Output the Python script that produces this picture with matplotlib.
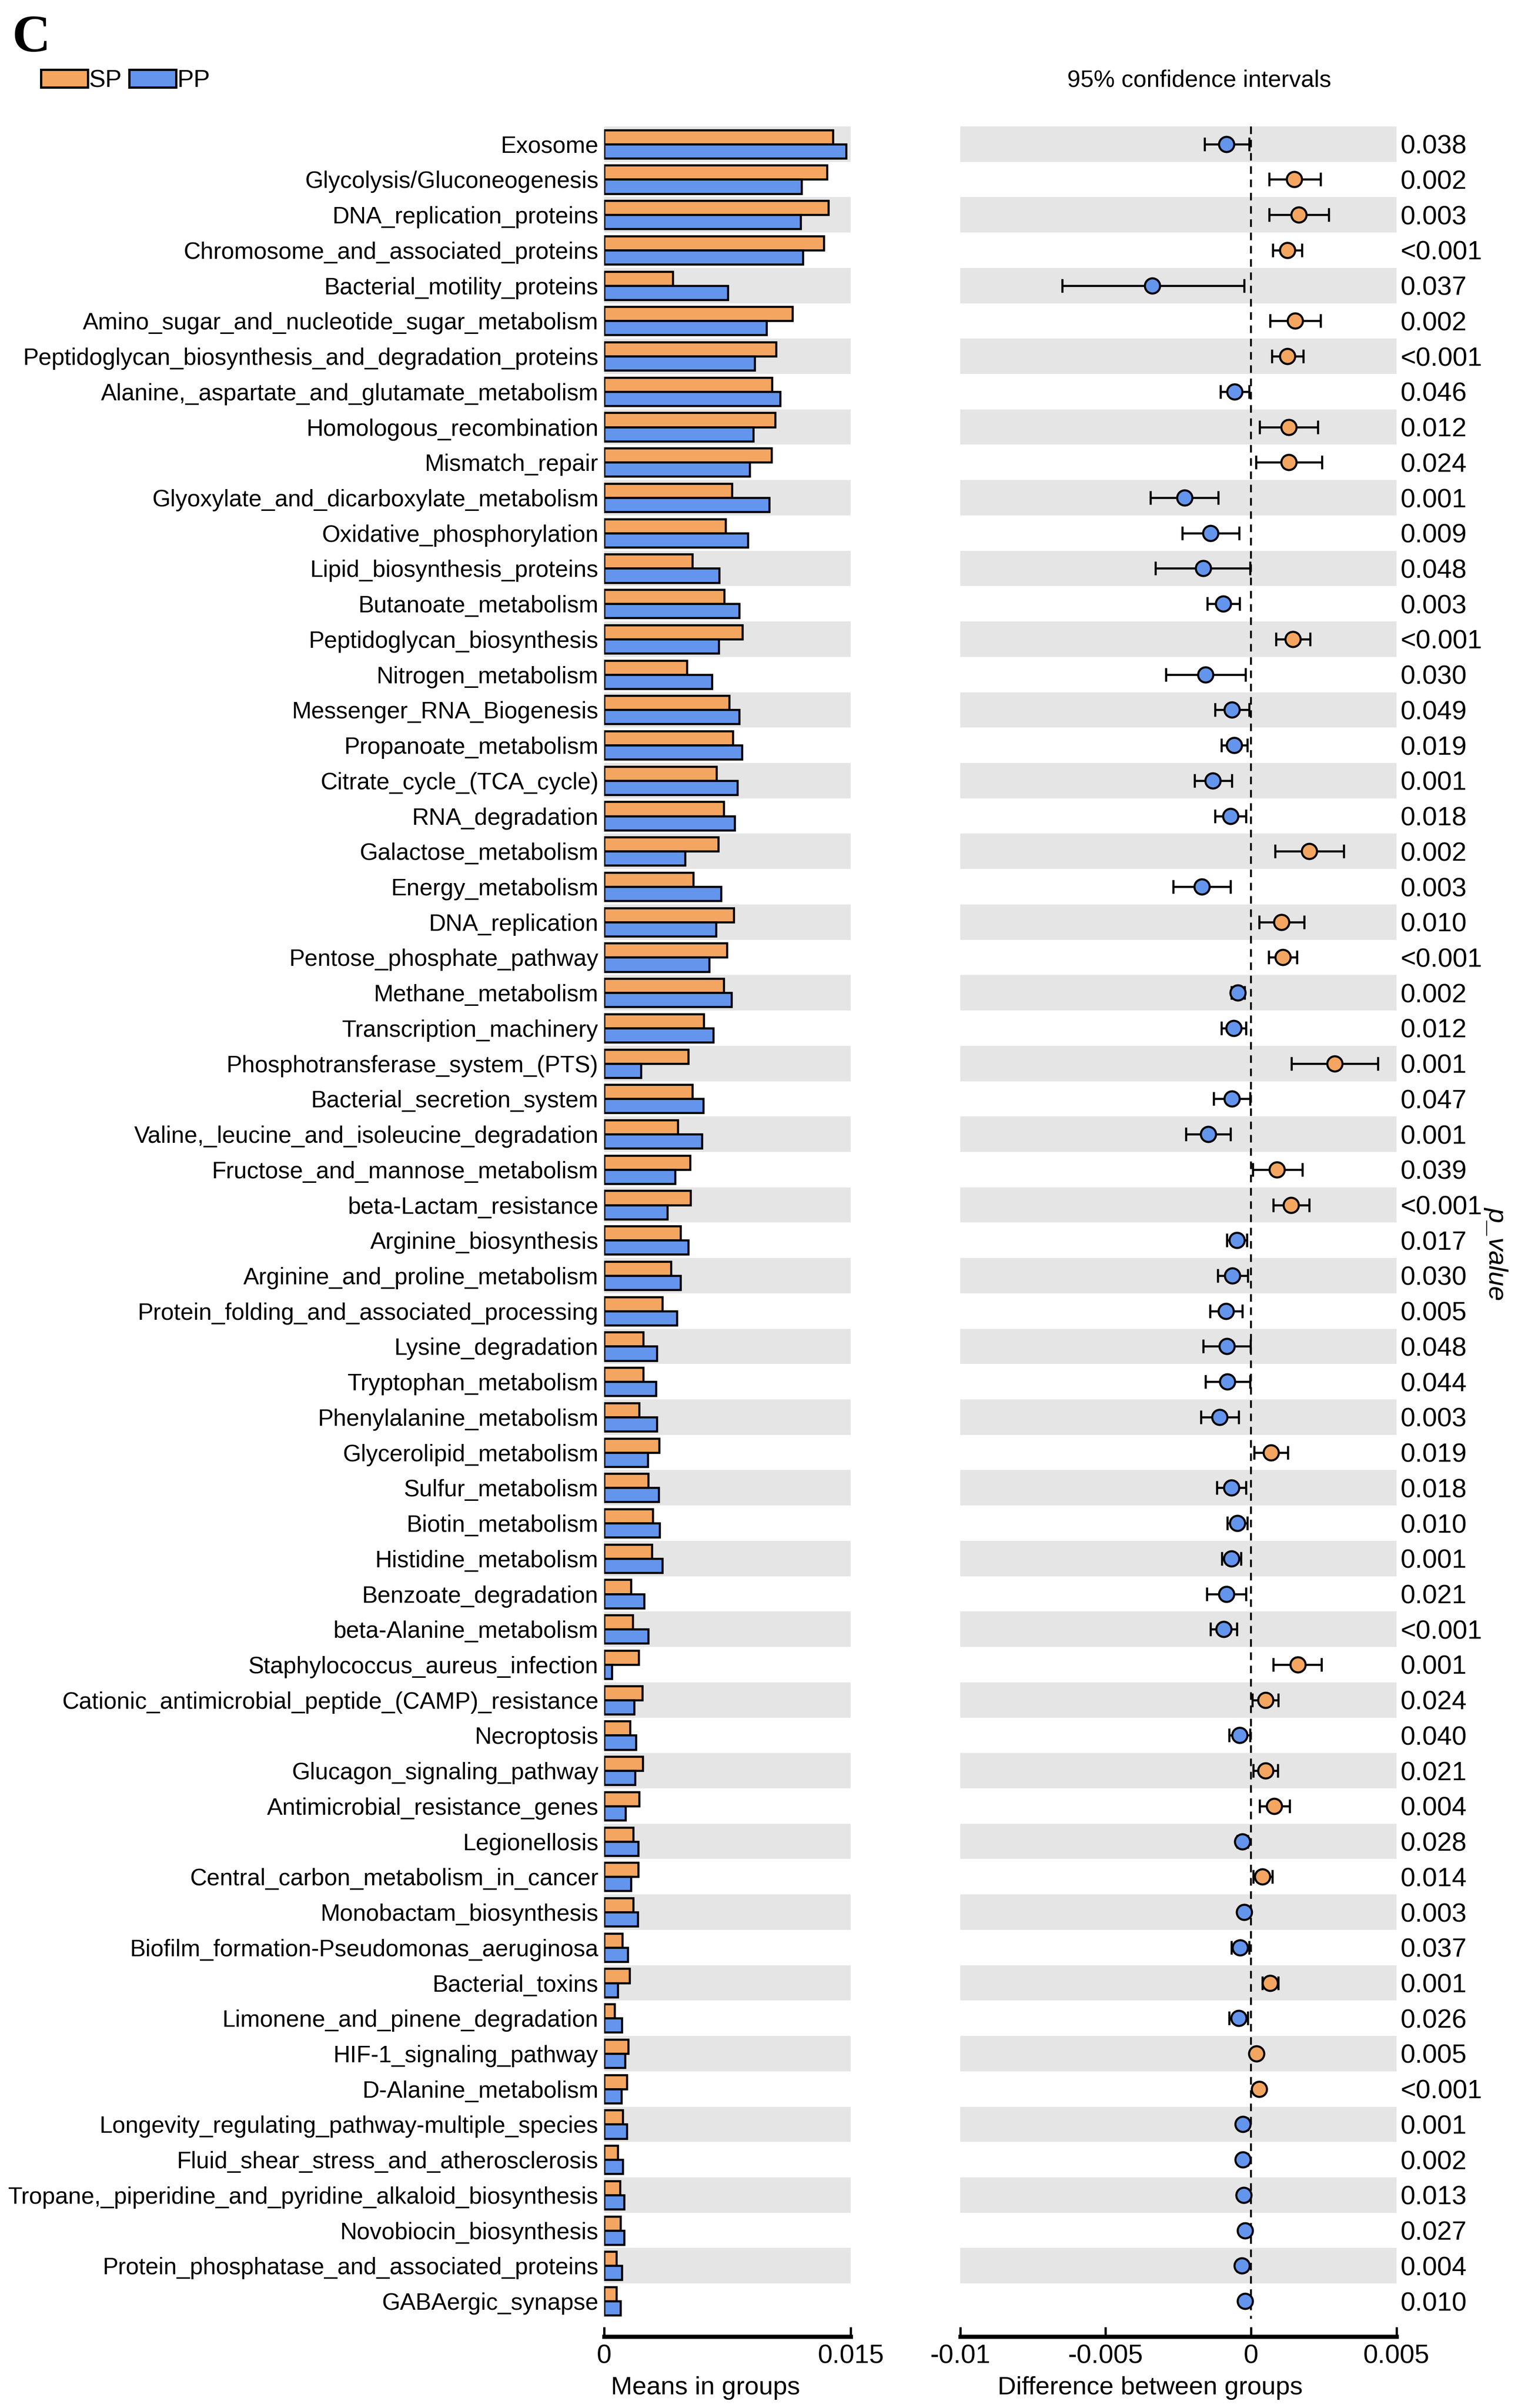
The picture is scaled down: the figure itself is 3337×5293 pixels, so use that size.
import matplotlib
matplotlib.use('Agg')
import matplotlib.pyplot as plt
from matplotlib.patches import Patch
import numpy as np

plt.rcParams['font.family'] = ['Liberation Sans', 'DejaVu Sans']

# pathway names, top to bottom
names = [
    'Exosome', 'Glycolysis/Gluconeogenesis', 'DNA_replication_proteins',
    'Chromosome_and_associated_proteins', 'Bacterial_motility_proteins',
    'Amino_sugar_and_nucleotide_sugar_metabolism',
    'Peptidoglycan_biosynthesis_and_degradation_proteins',
    'Alanine,_aspartate_and_glutamate_metabolism', 'Homologous_recombination',
    'Mismatch_repair', 'Glyoxylate_and_dicarboxylate_metabolism',
    'Oxidative_phosphorylation', 'Lipid_biosynthesis_proteins',
    'Butanoate_metabolism', 'Peptidoglycan_biosynthesis', 'Nitrogen_metabolism',
    'Messenger_RNA_Biogenesis', 'Propanoate_metabolism',
    'Citrate_cycle_(TCA_cycle)', 'RNA_degradation', 'Galactose_metabolism',
    'Energy_metabolism', 'DNA_replication', 'Pentose_phosphate_pathway',
    'Methane_metabolism', 'Transcription_machinery',
    'Phosphotransferase_system_(PTS)', 'Bacterial_secretion_system',
    'Valine,_leucine_and_isoleucine_degradation',
    'Fructose_and_mannose_metabolism', 'beta-Lactam_resistance',
    'Arginine_biosynthesis', 'Arginine_and_proline_metabolism',
    'Protein_folding_and_associated_processing', 'Lysine_degradation',
    'Tryptophan_metabolism', 'Phenylalanine_metabolism',
    'Glycerolipid_metabolism', 'Sulfur_metabolism', 'Biotin_metabolism',
    'Histidine_metabolism', 'Benzoate_degradation', 'beta-Alanine_metabolism',
    'Staphylococcus_aureus_infection',
    'Cationic_antimicrobial_peptide_(CAMP)_resistance', 'Necroptosis',
    'Glucagon_signaling_pathway', 'Antimicrobial_resistance_genes',
    'Legionellosis', 'Central_carbon_metabolism_in_cancer',
    'Monobactam_biosynthesis', 'Biofilm_formation-Pseudomonas_aeruginosa',
    'Bacterial_toxins', 'Limonene_and_pinene_degradation',
    'HIF-1_signaling_pathway', 'D-Alanine_metabolism',
    'Longevity_regulating_pathway-multiple_species',
    'Fluid_shear_stress_and_atherosclerosis',
    'Tropane,_piperidine_and_pyridine_alkaloid_biosynthesis',
    'Novobiocin_biosynthesis', 'Protein_phosphatase_and_associated_proteins',
    'GABAergic_synapse',
]

# mean relative abundance per group
sp_mean = [
    0.0139, 0.01356, 0.01363, 0.01336, 0.00418, 0.01145, 0.01045, 0.01021,
    0.01041, 0.01018, 0.00777, 0.00737, 0.00536, 0.0073, 0.0084, 0.00502,
    0.0076, 0.00783, 0.00683, 0.00726, 0.00693, 0.00542, 0.00787, 0.00747,
    0.00726, 0.00606, 0.00512, 0.00536, 0.00449, 0.00522, 0.00526, 0.00465,
    0.00405, 0.00355, 0.00238, 0.00238, 0.00214, 0.00335, 0.00268, 0.00295,
    0.00291, 0.00164, 0.00174, 0.00211, 0.00231, 0.00157, 0.00234, 0.00214,
    0.00177, 0.00208, 0.00177, 0.0011, 0.00154, 0.00064, 0.00147, 0.00137,
    0.00114, 0.00084, 0.00097, 0.0010, 0.00074, 0.00075,
]
pp_mean = [
    0.0147, 0.0120, 0.01195, 0.01209, 0.00753, 0.00988, 0.00914, 0.01071,
    0.00907, 0.00884, 0.01004, 0.00874, 0.0070, 0.0082, 0.00696, 0.00656,
    0.0082, 0.00837, 0.0081, 0.00793, 0.00492, 0.0071, 0.0068, 0.0064,
    0.00773, 0.00663, 0.00224, 0.00603, 0.00593, 0.00432, 0.00385, 0.00512,
    0.00465, 0.00442, 0.00321, 0.00315, 0.00321, 0.00264, 0.00331, 0.00338,
    0.00355, 0.00244, 0.00268, 0.00047, 0.00181, 0.00194, 0.00187, 0.00131,
    0.00208, 0.00164, 0.00204, 0.00144, 0.00084, 0.00107, 0.00127, 0.00104,
    0.00137, 0.00114, 0.00121, 0.00121, 0.00107, 0.0010,
]

# difference between groups with 95% CI
diff = [
    -0.00085, 0.00148, 0.00164, 0.00124, -0.0034, 0.00152, 0.00124, -0.00056,
    0.0013, 0.0013, -0.00229, -0.00139, -0.00165, -0.00096, 0.00143, -0.00156,
    -0.00066, -0.00058, -0.00132, -0.00071, 0.00199, -0.00169, 0.00105,
    0.00109, -0.00045, -0.0006, 0.00288, -0.00066, -0.00148, 0.00088, 0.00137,
    -0.00049, -0.00064, -0.00086, -0.00083, -0.00081, -0.00109, 0.00068,
    -0.00068, -0.00047, -0.00068, -0.00085, -0.00094, 0.0016, 0.00049,
    -0.00039, 0.00049, 0.00079, -0.0003, 0.00039, -0.00024, -0.00038, 0.00066,
    -0.00043, 0.00019, 0.00028, -0.00028, -0.00028, -0.00026, -0.00021,
    -0.00032, -0.00021,
]
ci_low = [
    -0.0016, 0.00062, 0.00062, 0.00075, -0.0065, 0.00066, 0.00071, -0.00105,
    0.0003, 0.00017, -0.00346, -0.00237, -0.00329, -0.0015, 0.00085, -0.00293,
    -0.00124, -0.00102, -0.00195, -0.00124, 0.00083, -0.00267, 0.00028,
    0.0006, -0.00068, -0.00102, 0.00139, -0.00128, -0.00224, 0.00006, 0.00077,
    -0.00083, -0.00115, -0.00141, -0.00164, -0.00156, -0.00173, 0.00011,
    -0.00117, -0.00081, -0.001, -0.00152, -0.00139, 0.00077, 0.00004,
    -0.00075, 0.00008, 0.0003, -0.00047, 0.00008, -0.00036, -0.00068, 0.00039,
    -0.00075, 0.00008, 0.00015, -0.00043, -0.00043, -0.0004, -0.00033,
    -0.00047, -0.00034,
]
ci_high = [
    -0.00006, 0.00239, 0.00267, 0.00175, -0.00024, 0.00239, 0.0018, -0.00006,
    0.00229, 0.00244, -0.00113, -0.00041, -0.00004, -0.00039, 0.00203,
    -0.00019, -0.00006, -0.00013, -0.00066, -0.00017, 0.00318, -0.0007,
    0.00182, 0.00158, -0.00023, -0.00017, 0.00436, -0.00004, -0.00071,
    0.00177, 0.00199, -0.00015, -0.00011, -0.0003, -0.00002, -0.00004,
    -0.00043, 0.00126, -0.00017, -0.00013, -0.00034, -0.00017, -0.00049,
    0.00242, 0.00094, -0.00004, 0.00092, 0.00133, -0.00011, 0.00073, -0.00011,
    -0.00006, 0.00094, -0.00011, 0.00032, 0.00041, -0.00011, -0.00011,
    -0.00010, -0.00008, -0.00016, -0.00008,
]

pvals = [
    '0.038', '0.002', '0.003', '<0.001', '0.037', '0.002', '<0.001', '0.046',
    '0.012', '0.024', '0.001', '0.009', '0.048', '0.003', '<0.001', '0.030',
    '0.049', '0.019', '0.001', '0.018', '0.002', '0.003', '0.010', '<0.001',
    '0.002', '0.012', '0.001', '0.047', '0.001', '0.039', '<0.001', '0.017',
    '0.030', '0.005', '0.048', '0.044', '0.003', '0.019', '0.018', '0.010',
    '0.001', '0.021', '<0.001', '0.001', '0.024', '0.040', '0.021', '0.004',
    '0.028', '0.014', '0.003', '0.037', '0.001', '0.026', '0.005', '<0.001',
    '0.001', '0.002', '0.013', '0.027', '0.004', '0.010',
]

groups = ['SP', 'PP']
orange = '#F4A661'
blue = '#6495ED'
band = '#E5E5E5'

n = len(names)
y = np.arange(n)
diff = np.array(diff)
ci_low = np.array(ci_low)
ci_high = np.array(ci_high)

fig = plt.figure(figsize=(3337 / 300, 5293 / 300), dpi=300)
ax1 = fig.add_axes([0.398, 0.0297, 0.1625, 0.9178])
ax2 = fig.add_axes([0.6325, 0.0297, 0.2875, 0.9178])

for ax in (ax1, ax2):
    for i in range(0, n, 2):
        ax.axhspan(i - 0.5, i + 0.5, color=band, lw=0, zorder=0)
    ax.set_ylim(62.0, -0.5)
    for s in ('top', 'right', 'left'):
        ax.spines[s].set_visible(False)
    ax.spines['bottom'].set_linewidth(2.2)
    ax.tick_params(axis='x', direction='in', length=5, width=1.2,
                   labelsize=14, pad=4)

# left panel: means
ax1.barh(y - 0.2, sp_mean, height=0.4, color=orange, edgecolor='black',
         linewidth=1.1, zorder=2)
ax1.barh(y + 0.2, pp_mean, height=0.4, color=blue, edgecolor='black',
         linewidth=1.1, zorder=2)
ax1.set_xlim(0, 0.015)
ax1.set_xticks([0, 0.015])
ax1.set_xticklabels(['0', '0.015'])
ax1.set_yticks(y)
ax1.set_yticklabels(names, fontsize=12.4)
ax1.tick_params(axis='y', length=0, pad=3)
ax1.set_xlabel('Means in groups', fontsize=13.5, labelpad=4)
ax1.xaxis.label.set_x(0.41)

# right panel: differences with CI
ax2.vlines(0, -0.5, 61.5, colors='black', linestyles=(0, (4, 3)),
           linewidth=1.0, zorder=1)
for sel, col in ((diff > 0, orange), (diff <= 0, blue)):
    ax2.errorbar(diff[sel], y[sel],
                 xerr=[diff[sel] - ci_low[sel], ci_high[sel] - diff[sel]],
                 fmt='o', ms=8, mfc=col, mec='black', mew=1.1,
                 ecolor='black', elinewidth=1.1, capsize=3.5, capthick=1.1,
                 zorder=3)
ax2.set_xlim(-0.01, 0.005)
ax2.set_xticks([-0.01, -0.005, 0, 0.005])
ax2.set_xticklabels(['-0.01', '-0.005', '0', '0.005'])
ax2.set_xlabel('Difference between groups', fontsize=13.5, labelpad=4)
ax2.xaxis.label.set_x(0.435)
ax2.yaxis.tick_right()
ax2.set_yticks(y)
ax2.set_yticklabels(pvals, fontsize=14)
ax2.tick_params(axis='y', length=0, pad=2)
ax2.yaxis.set_label_position('right')
ax2.set_ylabel('p_value', fontsize=14, style='italic', rotation=270,
               labelpad=14)
ax2.yaxis.label.set_y(0.49)

fig.text(0.79, 0.9665, '95% confidence intervals', ha='center',
         va='center', fontsize=12.5)

handles = [Patch(facecolor=orange, edgecolor='black', linewidth=1.2, label=groups[0]),
           Patch(facecolor=blue, edgecolor='black', linewidth=1.2, label=groups[1])]
fig.legend(handles=handles, loc='center left', bbox_to_anchor=(0.027, 0.9665),
           ncol=2, frameon=False, fontsize=13, handlelength=1.9,
           handleheight=0.75, handletextpad=0.05, columnspacing=0.3,
           borderpad=0, borderaxespad=0)

fig.text(0.008, 0.994, 'C', fontsize=28, fontweight='bold',
         family='Liberation Serif', va='top', ha='left')

fig.savefig('out.png', dpi=300)
